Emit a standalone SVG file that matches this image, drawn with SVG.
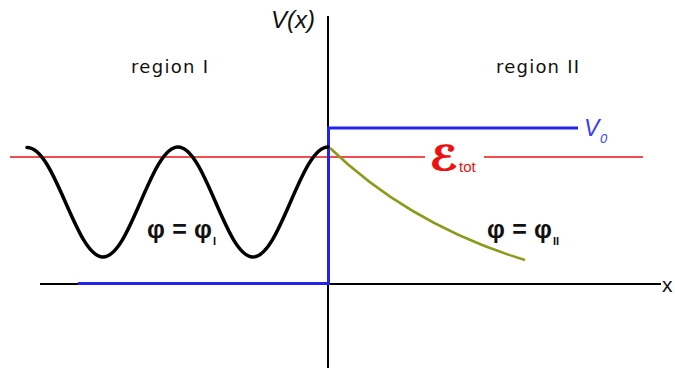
<svg xmlns="http://www.w3.org/2000/svg" width="675" height="368" viewBox="0 0 675 368">
<style>
.axis{stroke:#000;stroke-width:2;fill:none}
.pot{stroke:#2323f0;stroke-width:3;fill:none}
.energy{stroke:#ee1111;stroke-width:1.6;fill:none}
.wave{stroke:#000;stroke-width:3.5;fill:none;stroke-linecap:round}
.decay{stroke:#8c9a1c;stroke-width:2.5;fill:none}
.lbl{font-family:"DejaVu Sans","Liberation Sans",sans-serif;fill:#111}
.phi{font-family:"Liberation Sans","DejaVu Sans",sans-serif;font-weight:bold;fill:#111}
</style>
<rect width="675" height="368" fill="#fff"/>
<g id="connectors">
<line class="axis" x1="328" y1="16" x2="328" y2="368"/>
<line class="axis" x1="40" y1="284" x2="661" y2="284"/>
<line class="energy" x1="10" y1="157" x2="425" y2="157"/>
<line class="energy" x1="484" y1="157" x2="643" y2="157"/>
<path class="pot" d="M78,283.5 H328.5 V128 H578"/>
<path class="wave" d="M27,147.5 C55.3,147 75.7,257 103,257 S150.7,147 178,147 S225.7,257 253,257 S300.7,147 328,147"/>
<path class="decay" d="M330,148 Q410,225 525,260"/>
</g>
<g id="axis-labels">
<text x="271" y="28" font-family="Liberation Sans, Arial, sans-serif" font-style="italic" font-size="24" fill="#111">V(x)</text>
<text x="662" y="292" font-family="Liberation Sans, Arial, sans-serif" font-size="21" fill="#111">x</text>
</g>
<g id="region-I">
<text class="lbl" x="131" y="73" font-size="18" textLength="77" lengthAdjust="spacing">region I</text>
</g>
<g id="region-II">
<text class="lbl" x="496" y="73" font-size="18" textLength="83" lengthAdjust="spacing">region II</text>
</g>
<g id="V0">
<text x="584" y="136" font-family="Liberation Sans, Arial, sans-serif" font-style="italic" font-size="23" fill="#3b3bf5">V</text>
<text x="600" y="143" font-family="Liberation Sans, Arial, sans-serif" font-style="italic" font-size="13" fill="#3b3bf5">0</text>
</g>
<g id="Etot">
<text x="430" y="170" font-family="DejaVu Serif, DejaVu Sans, serif" font-style="italic" font-weight="bold" font-size="34" fill="#ee1111" stroke="#ee1111" stroke-width="1.2" textLength="28" lengthAdjust="spacingAndGlyphs">ℰ</text>
<text x="459" y="172" font-family="Liberation Sans, Arial, sans-serif" font-size="15" fill="#ee1111">tot</text>
</g>
<g id="phi-I">
<text class="phi" x="147" y="238" font-size="25" textLength="65" lengthAdjust="spacing">φ = φ</text>
<text class="phi" x="213" y="245" font-size="11">I</text>
</g>
<g id="phi-II">
<text class="phi" x="487" y="238" font-size="25" textLength="65" lengthAdjust="spacing">φ = φ</text>
<text class="phi" x="553" y="245" font-size="11">II</text>
</g>
</svg>
